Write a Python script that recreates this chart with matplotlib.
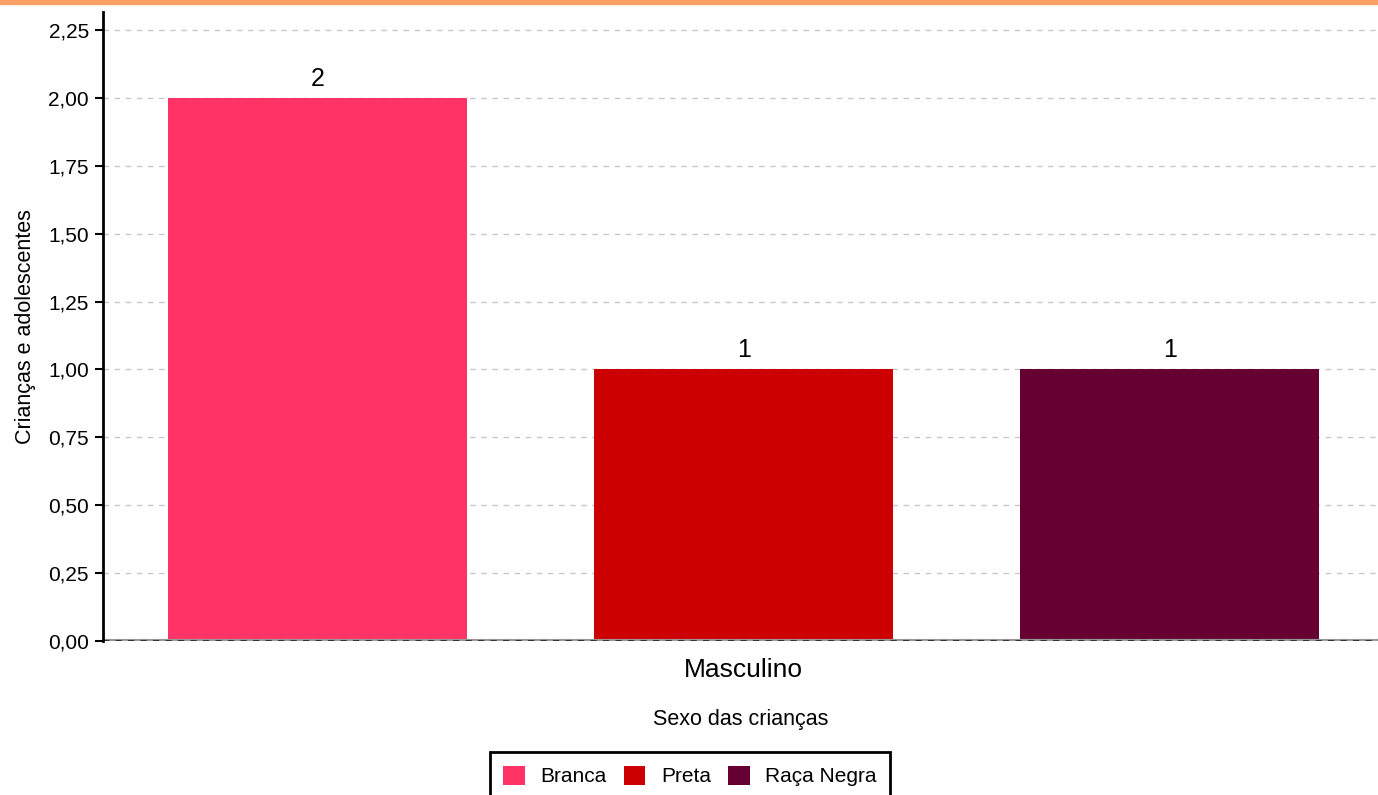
import matplotlib.pyplot as plt
from matplotlib.patches import Rectangle, Patch
from matplotlib.ticker import FuncFormatter

plt.rcParams['font.family'] = ['Liberation Sans', 'DejaVu Sans']

categorias = ['Branca', 'Preta', 'Raça Negra']
valores = [2, 1, 1]
cores = ['#FF3366', '#CC0000', '#660033']
grupo = 'Masculino'
yticks = [0, 0.25, 0.5, 0.75, 1.0, 1.25, 1.5, 1.75, 2.0, 2.25]

fig = plt.figure(figsize=(13.78, 7.95), dpi=100)
ax = fig.add_axes([103 / 1378, 1 - 641 / 795, 1 - 103 / 1378, (641 - 12) / 795])

x = list(range(len(categorias)))
bars = ax.bar(x, valores, width=0.702, color=cores, zorder=2)
for b, v in zip(bars, valores):
    ax.annotate(str(v), (b.get_x() + b.get_width() / 2, v), xytext=(0, 5),
                textcoords='offset points', ha='center', va='bottom', fontsize=18, zorder=3)

ax.set_xlim(-0.5035, 2.489)
ax.set_ylim(0, 2.316)
ax.set_yticks(yticks)
ax.yaxis.set_major_formatter(FuncFormatter(lambda v, p: f'{v:.2f}'.replace('.', ',')))
ax.tick_params(axis='y', labelsize=15, length=6, width=1.5, color='black', pad=4)
ax.set_xticks([1])
ax.set_xticklabels([grupo], fontsize=19)
ax.tick_params(axis='x', length=0, pad=12)
ax.grid(axis='y', linestyle=(0, (4, 4)), color='#c8c8c8', linewidth=1, zorder=0)

for s in ['top', 'right', 'bottom']:
    ax.spines[s].set_visible(False)
ax.spines['left'].set_linewidth(2)
ax.spines['left'].set_zorder(4)
ax.axhline(0, color='#999999', linewidth=3, zorder=3)
ax.axhline(0, color='#333333', linewidth=1.5, linestyle=(0, (3, 3)), zorder=3)

ax.set_ylabel('Crianças e adolescentes', fontsize=15.5, labelpad=9)
ax.set_xlabel('Sexo das crianças', fontsize=15.5, labelpad=20)

handles = [Patch(facecolor=c, label=l) for c, l in zip(cores, categorias)]
leg = fig.legend(handles=handles, loc='upper center', bbox_to_anchor=(0.5007, 1 - 752 / 795),
                 ncol=3, frameon=True, fancybox=False, fontsize=15, handlelength=1.05,
                 handleheight=1.05, columnspacing=0.8, borderpad=0.65, handletextpad=0.75,
                 borderaxespad=0, framealpha=1)
leg.get_frame().set_edgecolor('black')
leg.get_frame().set_linewidth(2)

fig.add_artist(Rectangle((0, 1 - 4 / 795), 1, 4 / 795, transform=fig.transFigure,
                         color='#FFA066', zorder=10))

fig.savefig('out.png', dpi=100)
